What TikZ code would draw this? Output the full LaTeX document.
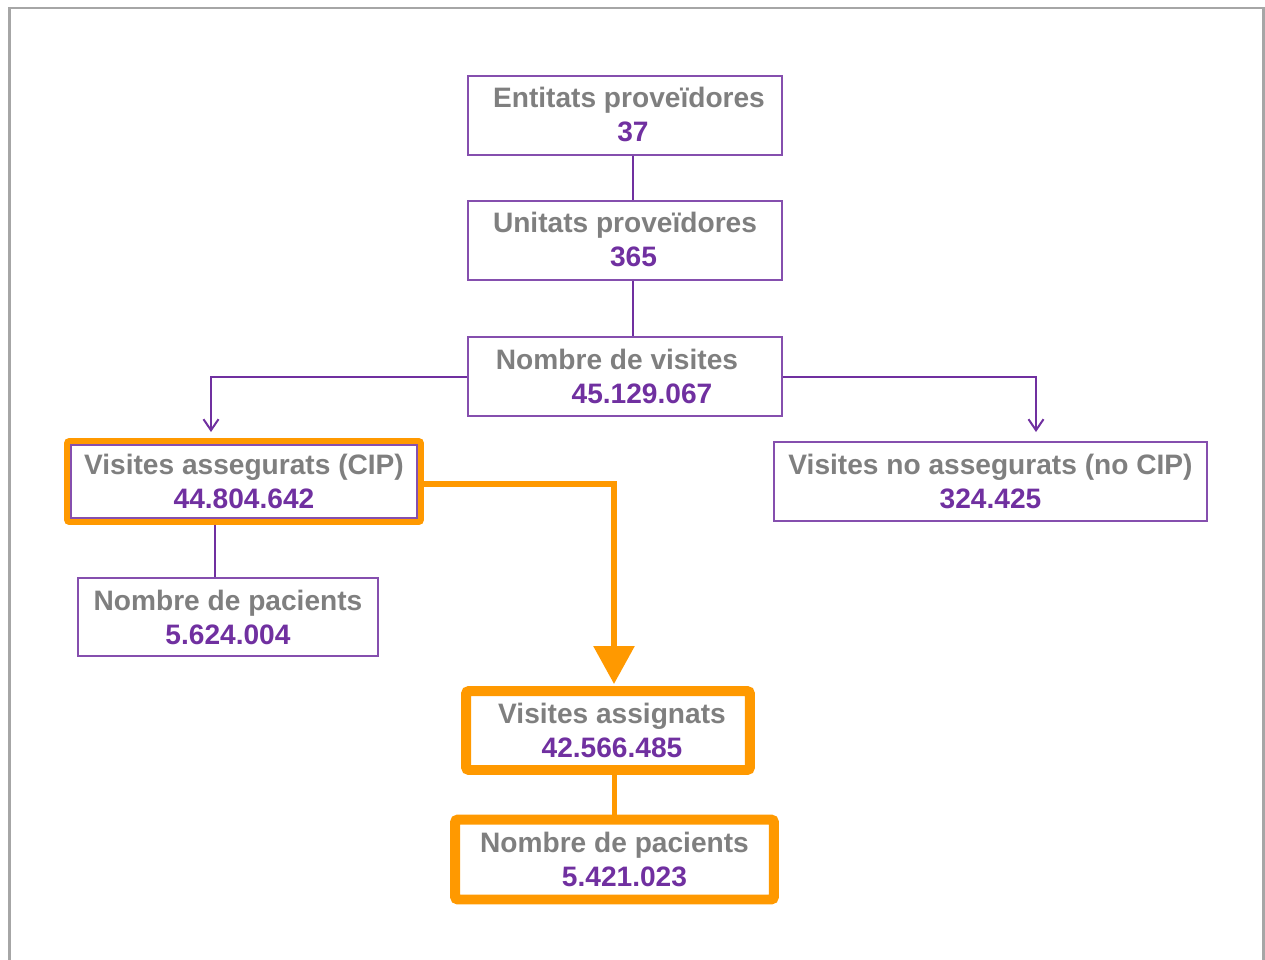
\documentclass[tikz,border=0pt]{standalone}
\usepackage{fontspec}
\setmainfont{Liberation Sans}
\usepackage{xcolor}
\usetikzlibrary{positioning,calc,arrows.meta}
\definecolor{txtgrey}{HTML}{7F7F7F}
\definecolor{lila}{HTML}{7030A0}
\definecolor{taronja}{HTML}{FF9900}
\definecolor{marc}{HTML}{A6A6A6}
\newcommand{\xifra}[1]{\textcolor{lila}{#1}}

\begin{document}
\begin{tikzpicture}[x=0.02cm, y=-0.02cm,
    caixa/.style={draw=lila!85, line width=0.03cm, inner sep=0pt, align=center,
      text=txtgrey, font=\fontsize{16}{19.4}\selectfont\bfseries, minimum height=1.58cm},
    destac/.style={caixa, draw=taronja, line width=0.2cm, rounded corners=0.06cm},
    enllac/.style={draw=lila, line width=0.04cm},
    fletxa/.style={enllac, -{Straight Barb[length=0.22cm, width=0.3cm]}},
    gruix/.style={draw=taronja, line width=0.12cm}]
    \useasboundingbox (0,0) rectangle (1265,960);

    % Frame
    \draw[marc, line width=0.06cm] (9.5,960) -- (9.5,8) -- (1263,8) -- (1263,960);

    % Boxes
    \node[caixa, minimum width=6.28cm] (ent) at (625,115.5)
      {\raisebox{0.06cm}{\hspace*{0.16cm}Entitats proveïdores}\\\raisebox{0.06cm}{\hspace*{0.32cm}\xifra{37}}};
    \node[caixa, minimum width=6.28cm] (unit) at (625,240.5)
      {\raisebox{0.03cm}{Unitats proveïdores}\\\raisebox{0.03cm}{\hspace*{0.34cm}\xifra{365}}};
    \node[caixa, minimum width=6.28cm] (vis) at (625,376.5)
      {Nombre de visites\hspace*{0.32cm}\\\hspace*{0.68cm}\xifra{45.129.067}};

    \node[draw=taronja, line width=0.12cm, rounded corners=0.05cm, minimum width=7.08cm, minimum height=1.62cm] (cipmarc) at (244,481.5) {};
    \node[caixa, minimum width=6.92cm, minimum height=1.46cm] (cip) at (244,481.5)
      {Visites assegurats (CIP)\\\xifra{44.804.642}};
    \node[caixa, minimum width=8.66cm] (nocip) at (990.5,481.5)
      {Visites no assegurats (no CIP)\\\xifra{324.425}};
    \node[caixa, minimum width=6.0cm, minimum height=1.56cm] (pacA) at (228,617)
      {Nombre de pacients\\\xifra{5.624.004}};

    \node[destac, minimum width=5.68cm] (assig) at (608,730.5)
      {\hspace*{0.16cm}Visites assignats\\\hspace*{0.16cm}\xifra{42.566.485}};
    \node[destac, minimum width=6.38cm, minimum height=1.6cm] (pacB) at (614.5,859.5)
      {Nombre de pacients\\\hspace*{0.4cm}\xifra{5.421.023}};

    % Connectors
    \coordinate (eixv) at (633,0);
    \coordinate (eixe) at (215,0);
    \coordinate (eixo) at (614,0);
    \coordinate (fe) at (211,432);
    \coordinate (fd) at (1036,432);

    \draw[enllac] (ent.south -| eixv) -- (unit.north -| eixv);
    \draw[enllac] (unit.south -| eixv) -- (vis.north -| eixv);
    \draw[fletxa] (vis.west) -| (fe);
    \draw[fletxa] (vis.east) -| (fd);
    \draw[enllac] (cipmarc.south -| eixe) -- (pacA.north -| eixe);

    \draw[gruix, shorten >=0.04cm, -{Triangle[length=0.76cm, width=0.8cm]}]
      ([yshift=-0.05cm]cipmarc.east) -| (assig.north -| eixo);
    \draw[gruix, line width=0.1cm] (assig.south -| eixo) -- (pacB.north -| eixo);
\end{tikzpicture}
\end{document}
